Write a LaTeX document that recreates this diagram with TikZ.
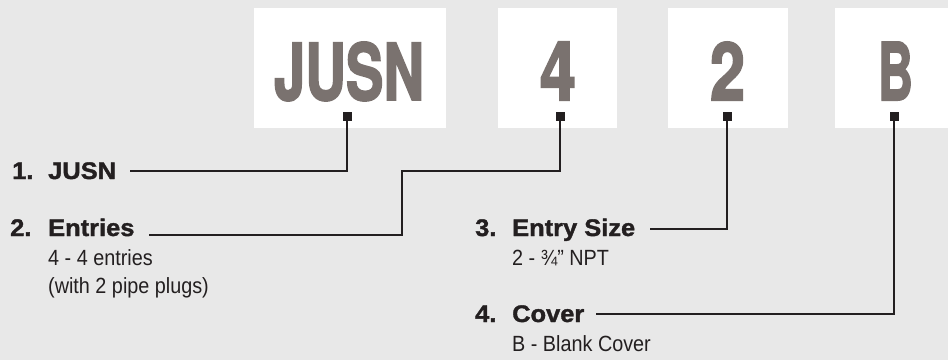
\documentclass[tikz,border=0pt]{standalone}
\usepackage{fontspec}
\setmainfont{Liberation Sans}[BoldFeatures={FakeBold=1.5,FakeStretch=1.06}]
\newfontfamily\subfont{Liberation Sans}[FakeStretch=0.9]
\newfontfamily\bigfont{TeX Gyre Heros}[BoldFeatures={FakeBold=2.5}]
\definecolor{bg}{HTML}{E8E8E8}
\definecolor{ink}{HTML}{231F20}
\definecolor{letter}{HTML}{7A726F}
\tikzset{
  codebox/.style={fill=white, draw=none, inner sep=0pt, minimum height=120pt},
  bigletter/.style={anchor=base, inner sep=0pt, text=letter},
  marker/.style={fill=ink, draw=none, inner sep=0pt, minimum size=9pt},
  numlabel/.style={anchor=base west, inner sep=0pt, text=ink, font=\fontsize{24}{24}\selectfont\bfseries},
  headlabel/.style={anchor=base west, inner sep=0pt, text=ink, font=\fontsize{24}{24}\selectfont\bfseries},
  sublabel/.style={anchor=base west, inner sep=0pt, text=ink, font=\fontsize{22}{22}\subfont},
  conn/.style={draw=ink, line width=2pt}
}
\begin{document}
\begin{tikzpicture}[x=1pt,y=-1pt]
\fill[bg] (0,0) rectangle (948,360);
\useasboundingbox (0,0) rectangle (948,360);
% boxes
\node[codebox, minimum width=192pt] (b1) at (350,67.5) {};
\node[codebox, minimum width=119pt] (b2) at (557.5,67.5) {};
\node[codebox, minimum width=120pt] (b3) at (728,67.5) {};
\node[codebox, minimum width=113pt] (b4) at (891.5,67.5) {};
% big letters
\node[bigletter] (t1) at (349,100) {\resizebox{150pt}{58pt}{\bigfont\bfseries JUSN}};
\node[bigletter] (t2) at (558,100) {\resizebox{36pt}{58pt}{\bigfont\bfseries 4}};
\node[bigletter] (t3) at (727.5,100) {\resizebox{35pt}{58pt}{\bigfont\bfseries 2}};
\node[bigletter] (t4) at (895.5,100) {\resizebox{35pt}{58pt}{\bigfont\bfseries B}};
% markers
\node[marker] (m1) at (347,116.5) {};
\node[marker] (m2) at (560,116.5) {};
\node[marker] (m3) at (727,116.5) {};
\node[marker] (m4) at (894,116.5) {};
% labels
\node[numlabel] (n1) at (12,179) {1.};
\node[headlabel] (h1) at (48,179) {JUSN};
\node[numlabel] (n2) at (10,236) {2.};
\node[headlabel] (h2) at (48,236) {Entries};
\node[sublabel] (s2a) at (48,265) {4 - 4 entries};
\node[sublabel] (s2b) at (48,293) {(with 2 pipe plugs)};
\node[numlabel] (n3) at (475,236) {3.};
\node[headlabel] (h3) at (512,236) {Entry Size};
\node[sublabel] (s3) at (512,265) {2 - ¾” NPT};
\node[numlabel] (n4) at (475,322) {4.};
\node[headlabel] (h4) at (512,322) {Cover};
\node[sublabel] (s4) at (512,351) {B - Blank Cover};
% connector ends
\coordinate (e1) at (130,171);
\coordinate (k2) at (402,171);
\coordinate (e2) at (149,235);
\coordinate (e3) at (650,229);
\coordinate (e4) at (596,314);
% connectors
\draw[conn] (m1.south) |- (e1);
\draw[conn] (m2.south) |- (k2) |- (e2);
\draw[conn] (m3.south) |- (e3);
\draw[conn] (m4.south) |- (e4);
\end{tikzpicture}
\end{document}
